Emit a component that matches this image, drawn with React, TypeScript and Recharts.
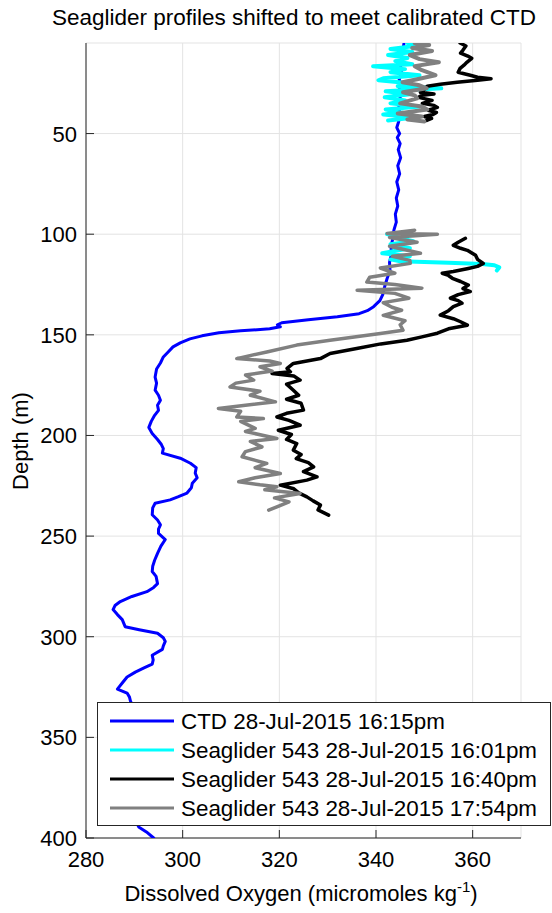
import React from 'react';
import { ScatterChart, Scatter, XAxis, YAxis, CartesianGrid } from 'recharts';

const FONT = '"Liberation Sans", Arial, Helvetica, sans-serif';
const AXIS = '#262626';

const titleText = 'Seaglider profiles shifted to meet calibrated CTD';
const xLabel = 'Dissolved Oxygen (micromoles kg';
const xLabelSup = '-1';
const yLabel = 'Depth (m)';

const xTicks = [280, 300, 320, 340, 360];
const yTicks = [50, 100, 150, 200, 250, 300, 350, 400];
const xDomain = [280, 370];
const yDomain = [5, 400];

const legendLabels = [
  'CTD 28-Jul-2015 16:15pm',
  'Seaglider 543 28-Jul-2015 16:01pm',
  'Seaglider 543 28-Jul-2015 16:40pm',
  'Seaglider 543 28-Jul-2015 17:54pm',
];
const seriesColors = ['#0000ff', '#00ffff', '#000000', '#808080'];

// CTD 28-Jul-2015 16:15pm
const ctdDepth = [5, 8, 11, 14, 17, 20, 23, 26, 29, 32, 35, 38, 41, 44, 47, 50, 52, 55, 58, 62, 66, 70, 74, 78, 82, 86, 90, 94, 98, 102, 106, 110, 114, 118, 122, 126, 130, 133, 136, 138, 139.5, 141, 142.5, 144, 145, 146, 147, 148, 149, 150.5, 152, 154, 156, 158.5, 161, 164, 167, 171, 174, 177.5, 180, 182.5, 185, 187.5, 190, 193, 196, 199, 202, 204.5, 206.5, 208.8, 211.3, 213.8, 216, 218.7, 221, 223.7, 226, 228.6, 230.5, 232, 233.7, 236, 239.4, 242, 244.4, 246.5, 248.7, 251.7, 255, 258.6, 262, 265, 267.6, 270, 273.6, 275.5, 277.6, 280, 282.5, 284.5, 286.5, 289, 291.5, 295, 296.5, 298.3, 300.5, 302.3, 304.5, 306.3, 309.2, 311.5, 313.6, 315.5, 317.6, 320, 323, 326, 328, 330, 332, 336, 342, 350, 358, 366, 374, 382, 390, 394.5, 397, 400];
const ctdOxygen = [345.8, 345.6, 345.2, 345.5, 345.0, 345.3, 344.8, 345.2, 344.7, 345.0, 344.6, 344.9, 344.4, 344.7, 344.3, 344.9, 344.4, 345.0, 344.6, 345.1, 344.5, 344.9, 344.3, 344.7, 344.2, 344.5, 344.0, 344.2, 343.7, 343.5, 343.1, 343.2, 342.8, 342.9, 342.3, 341.8, 341.4, 340.8, 339.5, 338.2, 336.5, 332, 326, 320.5, 319.6, 320.2, 318, 312, 307.5, 304, 301.5, 299.5, 298, 297, 296, 295.4, 294.6, 294.3, 294.6, 294.3, 295, 295.4, 294.8, 295, 294.2, 293.5, 293, 293.7, 294.8, 295.6, 296, 295.8, 299.5, 301.6, 302.8, 302.6, 303, 302, 301.8, 300.9, 299, 297.4, 294.3, 293.8, 293.7, 294.8, 295.4, 295, 295, 296.4, 295.5, 294.8, 294.2, 293.8, 293.7, 294.5, 294.8, 294, 292.6, 289.5, 287.1, 286, 285.6, 286.5, 287.5, 288.1, 291, 294.8, 296, 296.4, 296, 295.8, 293.7, 293.9, 293.7, 292, 290.2, 288.5, 287.5, 286.5, 288.5, 289, 289.2, 290, 291.5, 292, 291, 290, 289, 289.5, 290, 290.9, 292.5, 294];

// Seaglider 543 16:01pm (cyan)
const cyanTopDepth = [5, 6.5, 8, 9.5, 11, 12.5, 14, 15.5, 16.6, 18, 19.5, 21, 22.5, 23.5, 25, 26.5, 27.5, 29, 30.5, 32, 33.5, 35, 36.5, 38, 39.5, 40.5, 42, 43.5];
const cyanTopOxygen = [346.5, 348, 343, 347.5, 342.5, 346.5, 344, 347.5, 339.4, 346, 343, 349, 341.5, 340.5, 347, 344.5, 353.5, 342, 347, 341.8, 346, 343, 349, 342, 345.5, 341.5, 348, 342.5];
const cyanMidDepth = [100, 102, 103.5, 105, 107, 109.5, 111, 112.5, 113.5, 114.2, 114.8, 115.4, 116.5, 118];
const cyanMidOxygen = [342.3, 345, 347.7, 343, 347, 341.3, 347, 343, 345, 355, 362, 364.5, 365.5, 365];

// Seaglider 543 16:40pm (black)
const blackTopDepth = [5, 6.5, 8.5, 10, 11.5, 12.6, 14.6, 16, 17.6, 19.5, 21, 22, 22.8, 23.5, 24.5, 25.5, 26.5, 28, 29.5, 30.3, 31, 32, 33.5, 35, 36, 37, 38.4, 39.5, 40.5, 41.5, 42.5, 43.5];
const blackTopOxygen = [357.4, 358.6, 358, 357.5, 359, 359.8, 358.8, 358.2, 357.4, 357, 359.5, 361, 363.8, 361, 356.8, 353.3, 350.6, 350, 349.2, 352, 349.5, 348.8, 351.6, 349.6, 352, 352.7, 350.8, 352.5, 351.8, 350, 351.5, 350.5];
const blackDeepDepth = [102, 104, 105.5, 107, 108, 110.5, 112.5, 114.5, 116, 117, 118.5, 119.4, 120.5, 121.9, 123.5, 125.3, 127, 128.5, 130, 131.8, 133, 134.3, 136, 138, 140.2, 142, 143.5, 145.2, 147, 149.2, 151, 152.7, 154.5, 156.8, 159.3, 161.8, 164.2, 166.7, 168.4, 169.2, 170.5, 172.5, 174.5, 177.5, 180, 182, 184, 187.4, 189, 190.8, 192.5, 194.9, 197.4, 199.5, 202, 204, 207.3, 209.5, 211.5, 213.5, 215.6, 218, 220.6, 222.2, 224.7, 226.5, 228.5, 230.5, 232.5, 234.6, 237, 239.6];
const blackDeepOxygen = [358.5, 357, 356, 357.5, 358.9, 360.6, 361, 362.2, 361, 359.1, 356, 353.7, 355, 355.8, 357.5, 359.1, 358, 359.5, 357, 355.4, 357, 357.8, 356, 355, 353.3, 356, 357.5, 358.9, 355, 352.7, 349.5, 346.4, 341, 336, 330.5, 328.5, 322.9, 321.6, 322.3, 318.5, 323, 324.3, 321.5, 322.9, 324, 321.5, 324.5, 325, 321.5, 319.5, 322, 324.3, 319.8, 322.5, 321.5, 323.6, 322.9, 324.5, 323.5, 326, 327.1, 325, 327.8, 325.7, 320.2, 323, 324, 325.7, 327, 328.5, 328, 330.2];

// Seaglider 543 17:54pm (gray)
const grayTopDepth = [5, 6, 7.5, 9, 11, 13, 14.6, 16.5, 18.5, 21, 23, 24.5, 26, 27.5, 29.5, 31, 32.5, 35, 36.5, 38, 40, 41.5, 43, 44];
const grayTopOxygen = [348, 351, 347.5, 351.6, 347, 349, 353, 348, 349.5, 352.3, 348.5, 345.5, 349, 350.5, 345.6, 348, 348.5, 345, 349.5, 350.6, 344.5, 349.5, 346.5, 350];
const grayDeepDepth = [98, 99.6, 100, 101.6, 104, 106, 109.5, 111, 113, 114.5, 116.8, 119.4, 121.4, 123.8, 125, 126.8, 127.8, 129.4, 131.8, 134, 136.3, 137.8, 140.3, 143, 145, 147.7, 149.3, 152.7, 155.1, 158.5, 161.8, 163, 164.2, 165.9, 168, 170, 172.5, 174, 175.9, 178, 180, 183.3, 185, 186.6, 188, 190.8, 191.6, 193, 196.5, 198, 201.5, 203, 205.7, 208, 210.6, 213.9, 216, 218.9, 221, 223, 224.5, 225.5, 227, 228.8, 231, 233, 235, 237.1];
const grayDeepOxygen = [348, 342.3, 352.7, 342.8, 348.5, 342.8, 349.2, 343.4, 347, 347.1, 340.9, 343.9, 338.7, 338.1, 343.9, 349.5, 336.1, 343.9, 346.8, 341.5, 343.3, 345.3, 341.5, 346, 345, 345.6, 340.9, 330.5, 323.6, 317.4, 311.2, 318, 320.2, 316, 318.5, 313, 314.7, 311, 309.8, 316, 314, 319.2, 313, 307.4, 312, 311.2, 316.7, 312, 315, 313, 319.5, 314, 316.4, 313, 312.3, 317.4, 315, 320.2, 315, 311.6, 316, 319.5, 317, 324.3, 319, 322, 320, 317.8];

const zip = (d: number[], o: number[]) => d.map((v, i) => ({ depth: v, oxygen: o[i] }));

const series = [
  { key: 'ctd', data: zip(ctdDepth, ctdOxygen), color: seriesColors[0], width: 3 },
  { key: 'cyanTop', data: zip(cyanTopDepth, cyanTopOxygen), color: seriesColors[1], width: 4 },
  { key: 'cyanMid', data: zip(cyanMidDepth, cyanMidOxygen), color: seriesColors[1], width: 4 },
  { key: 'blackTop', data: zip(blackTopDepth, blackTopOxygen), color: seriesColors[2], width: 3.5 },
  { key: 'blackDeep', data: zip(blackDeepDepth, blackDeepOxygen), color: seriesColors[2], width: 3.5 },
  { key: 'grayTop', data: zip(grayTopDepth, grayTopOxygen), color: seriesColors[3], width: 4 },
  { key: 'grayDeep', data: zip(grayDeepDepth, grayDeepOxygen), color: seriesColors[3], width: 3.5 },
];

const BottomTick = (props: any) => {
  const { x, y, payload } = props;
  return (
    <g>
      <line x1={x} x2={x} y1={y} y2={y - 8} stroke={AXIS} strokeWidth={1} />
      <text x={x} y={y + 29} textAnchor="middle" fontSize={22} fontFamily={FONT} fill="#000">
        {payload.value}
      </text>
    </g>
  );
};
const TopTick = (props: any) => {
  const { x, y } = props;
  return <line x1={x} x2={x} y1={y} y2={y + 8} stroke={AXIS} strokeWidth={1} />;
};
const LeftTick = (props: any) => {
  const { x, y, payload } = props;
  return (
    <g>
      <line x1={x} x2={x + 8} y1={y} y2={y} stroke={AXIS} strokeWidth={1} />
      <text x={x - 9} y={y + 8} textAnchor="end" fontSize={22} fontFamily={FONT} fill="#000">
        {payload.value}
      </text>
    </g>
  );
};
const RightTick = (props: any) => {
  const { x, y } = props;
  return <line x1={x} x2={x - 8} y1={y} y2={y} stroke={AXIS} strokeWidth={1} />;
};

const NoShape = () => <g />;

export default function App() {
  return (
    <div style={{ position: 'absolute', left: 0, top: 0, width: 552, height: 913, background: '#fff' }}>
      <ScatterChart width={552} height={913} margin={{ top: 43, right: 31, bottom: 0, left: 0 }}>
        <CartesianGrid stroke="#e3e3e3" strokeWidth={1} />
        <XAxis
          type="number"
          dataKey="oxygen"
          domain={xDomain}
          ticks={xTicks}
          allowDataOverflow
          height={75}
          tickSize={0}
          tickMargin={0}
          tickLine={false}
          tick={<BottomTick />}
          axisLine={{ stroke: AXIS, strokeWidth: 1 }}
          interval={0}
        />
        <XAxis
          xAxisId="top"
          orientation="top"
          type="number"
          domain={xDomain}
          ticks={xTicks}
          allowDataOverflow
          height={0}
          tickSize={0}
          tickMargin={0}
          tickLine={false}
          tick={<TopTick />}
          axisLine={{ stroke: AXIS, strokeWidth: 1 }}
          interval={0}
        />
        <YAxis
          type="number"
          dataKey="depth"
          domain={yDomain}
          ticks={yTicks}
          reversed
          allowDataOverflow
          width={86}
          tickSize={0}
          tickMargin={0}
          tickLine={false}
          tick={<LeftTick />}
          axisLine={{ stroke: AXIS, strokeWidth: 1 }}
          interval={0}
        />
        <YAxis
          yAxisId="right"
          orientation="right"
          type="number"
          domain={yDomain}
          ticks={yTicks}
          reversed
          allowDataOverflow
          width={0}
          tickSize={0}
          tickMargin={0}
          tickLine={false}
          tick={<RightTick />}
          axisLine={{ stroke: AXIS, strokeWidth: 1 }}
          interval={0}
        />
        {series.map((s) => (
          <Scatter
            key={s.key}
            data={s.data}
            shape={NoShape}
            line={{ stroke: s.color, strokeWidth: s.width, strokeLinejoin: 'round', strokeLinecap: 'round' }}
            lineType="joint"
            lineJointType="linear"
            fill={s.color}
            isAnimationActive={false}
          />
        ))}
      </ScatterChart>
      <svg
        width={552}
        height={913}
        style={{ position: 'absolute', left: 0, top: 0, pointerEvents: 'none' }}
      >
        <text x={294} y={25} textAnchor="middle" fontSize={22.5} fontFamily={FONT} fill="#000">
          {titleText}
        </text>
        <text x={301} y={901} textAnchor="middle" fontSize={22} fontFamily={FONT} fill="#000">
          {xLabel}
          <tspan fontSize={15} dy={-9}>{xLabelSup}</tspan>
          <tspan dy={9}>)</tspan>
        </text>
        <text
          x={0}
          y={0}
          transform="translate(28,441) rotate(-90)"
          textAnchor="middle"
          fontSize={22}
          fontFamily={FONT}
          fill="#000"
        >
          {yLabel}
        </text>
        <rect x={97.5} y={702.5} width={453} height={123} fill="#fff" stroke={AXIS} strokeWidth={1} />
        {legendLabels.map((label, i) => {
          const cy = 721 + i * 29;
          return (
            <g key={label}>
              <line x1={110} x2={174} y1={cy} y2={cy} stroke={seriesColors[i]} strokeWidth={3} />
              <text x={181} y={cy + 8} fontSize={22.4} fontFamily={FONT} fill="#000">
                {label}
              </text>
            </g>
          );
        })}
      </svg>
    </div>
  );
}
